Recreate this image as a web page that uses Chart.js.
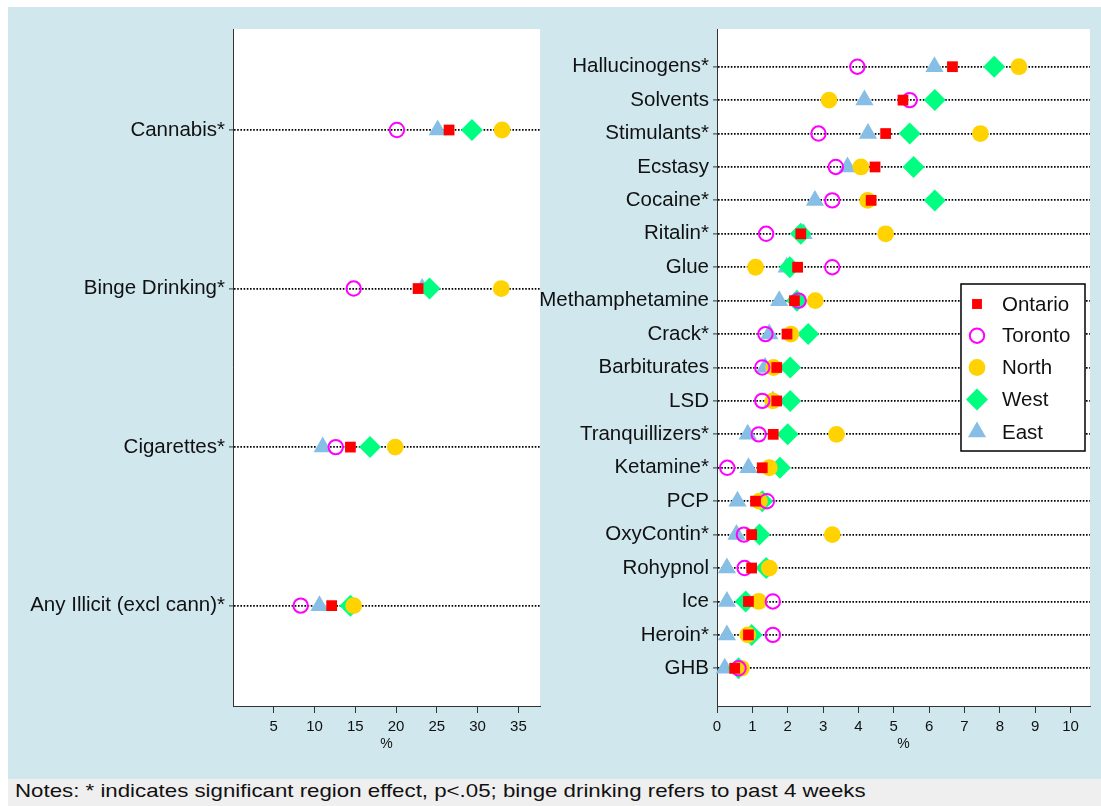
<!DOCTYPE html>
<html>
<head>
<meta charset="utf-8">
<script src="https://cdn.jsdelivr.net/npm/chart.js@4/dist/chart.umd.min.js"></script>
<style>
  html, body { margin: 0; padding: 0; background: #ffffff; }
  body { width: 1101px; height: 806px; position: relative; overflow: hidden; font-family: 'Liberation Sans', Arial, sans-serif; }
  #bg { position: absolute; left: 8px; top: 7px; width: 1093px; height: 772px; background: #d0e7ee; }
  #notes { position: absolute; left: 8px; top: 779px; width: 1093px; height: 27px; background: #efefef; }
  #notesText { position: absolute; left: 15px; top: 777px; height: 27px; line-height: 27px; font-size: 19px; color: #111; white-space: nowrap; transform: scaleX(1.172); transform-origin: 0 50%; }
  canvas { position: absolute; top: 0; }
  #left { left: 0; }
  #right { left: 520px; }
</style>
</head>
<body>
<div id="bg"></div>
<div id="notes"></div>
<div id="notesText">Notes: * indicates significant region effect, p&lt;.05; binge drinking refers to past 4 weeks</div>
<canvas id="left" width="560" height="779"></canvas>
<canvas id="right" width="581" height="779"></canvas>
<script>
// Substance-use prevalence (%) by region
const leftCategories = ['Cannabis*', 'Binge Drinking*', 'Cigarettes*', 'Any Illicit (excl cann)*'];
const leftOntario = [26.5, 22.7, 14.4, 12.1];
const leftToronto = [20.1, 14.8, 12.6, 8.3];
const leftNorth   = [33.0, 32.9, 19.9, 14.8];
const leftWest    = [29.3, 24.1, 16.8, 14.4];
const leftEast    = [25.1, 23.2, 11.0, 10.6];
const leftTicks   = [5, 10, 15, 20, 25, 30, 35];

const rightCategories = ['Hallucinogens*', 'Solvents', 'Stimulants*', 'Ecstasy', 'Cocaine*', 'Ritalin*', 'Glue',
  'Methamphetamine', 'Crack*', 'Barbiturates', 'LSD', 'Tranquillizers*', 'Ketamine*', 'PCP', 'OxyContin*',
  'Rohypnol', 'Ice', 'Heroin*', 'GHB'];
const rightOntario = [6.66, 5.26, 4.77, 4.47, 4.36, 2.37, 2.28, 2.19, 1.98, 1.69, 1.69, 1.59, 1.28, 1.09, 0.98, 0.98, 0.89, 0.89, 0.50];
const rightToronto = [3.97, 5.45, 2.87, 3.36, 3.26, 1.39, 3.26, 2.31, 1.37, 1.28, 1.28, 1.18, 0.29, 1.41, 0.76, 0.78, 1.58, 1.58, 0.61];
const rightNorth   = [8.54, 3.17, 7.45, 4.07, 4.26, 4.77, 1.09, 2.78, 2.09, 1.60, 1.58, 3.38, 1.48, 1.20, 3.26, 1.48, 1.18, 0.87, 0.69];
const rightWest    = [7.84, 6.16, 5.45, 5.56, 6.16, 2.37, 2.06, 2.26, 2.58, 2.07, 2.07, 2.00, 1.78, 1.28, 1.20, 1.39, 0.81, 0.98, 0.61];
const rightEast    = [6.15, 4.17, 4.27, 3.69, 2.77, 2.45, 1.97, 1.76, 1.48, 1.36, 1.58, 0.87, 0.89, 0.58, 0.55, 0.28, 0.28, 0.28, 0.22];
const rightTicks   = [0, 1, 2, 3, 4, 5, 6, 7, 8, 9, 10];

const regionNames = ['Ontario', 'Toronto', 'North', 'West', 'East'];

const FONT = "'Liberation Sans', Arial, sans-serif";
const AXIS = '#333333';

// marker style per region (dataset 0 is drawn on top)
const markerStyles = [
  { pointStyle: 'rect',     radius: 7.6, fill: '#ff0000', stroke: '#ff0000', borderWidth: 0 },
  { pointStyle: 'circle',   radius: 7.2, fill: 'rgba(0,0,0,0)', stroke: '#ff00ff', borderWidth: 2 },
  { pointStyle: 'circle',   radius: 8.4, fill: '#ffd200', stroke: '#ffd200', borderWidth: 0 },
  { pointStyle: 'rectRot',  radius: 11,  fill: '#00ff80', stroke: '#00ff80', borderWidth: 0 },
  { pointStyle: 'triangle', radius: 10.5, fill: '#87bee6', stroke: '#87bee6', borderWidth: 0 }
];

function buildDatasets(seriesList) {
  return seriesList.map((values, k) => {
    const m = markerStyles[k];
    return {
      label: regionNames[k],
      data: values.map((v, i) => ({ x: v, y: i + 1 })),
      showLine: false,
      pointStyle: m.pointStyle,
      pointRadius: m.radius,
      pointHoverRadius: m.radius,
      pointBackgroundColor: m.fill,
      pointBorderColor: m.stroke,
      pointBorderWidth: m.borderWidth,
      pointHoverBorderWidth: m.borderWidth,
      clip: false
    };
  });
}

const whiteArea = {
  id: 'whiteArea',
  beforeDraw(chart) {
    const { ctx, chartArea: a } = chart;
    ctx.save();
    ctx.fillStyle = '#ffffff';
    ctx.fillRect(a.left, a.top, a.right - a.left, a.bottom - a.top);
    ctx.restore();
  }
};

// legend box drawn inside the plot area
const insideLegend = {
  id: 'insideLegend',
  afterDraw(chart) {
    const ctx = chart.ctx;
    const ox = chart.canvas.offsetLeft;
    const box = { x: 961 - ox, y: 284, w: 124, h: 167 };
    ctx.save();
    ctx.fillStyle = '#ffffff';
    ctx.fillRect(box.x, box.y, box.w, box.h);
    ctx.strokeStyle = '#000000';
    ctx.lineWidth = 1.5;
    ctx.strokeRect(box.x, box.y, box.w, box.h);
    const rowY = [304, 335.7, 367.5, 399.6, 432];
    ctx.font = '20.5px ' + FONT;
    ctx.textBaseline = 'middle';
    ctx.textAlign = 'left';
    regionNames.forEach((name, k) => {
      const m = markerStyles[k];
      ctx.fillStyle = m.fill;
      ctx.strokeStyle = m.stroke;
      ctx.lineWidth = m.borderWidth;
      const r = k === 0 ? 7 : m.radius;
      Chart.helpers.drawPoint(ctx, { pointStyle: m.pointStyle, radius: r, borderWidth: m.borderWidth, rotation: 0 }, 977 - ox, rowY[k]);
      ctx.fillStyle = '#111111';
      ctx.fillText(name, 1002 - ox, rowY[k] + 1);
    });
    ctx.restore();
  }
};

function makePanel(canvasId, cats, series, ticks, xMax, yMin, yMax, yWidth, padRight, extraPlugins) {
  return new Chart(document.getElementById(canvasId), {
    type: 'scatter',
    data: { datasets: buildDatasets(series) },
    options: {
      responsive: false,
      animation: false,
      events: [],
      layout: { padding: { top: 29, right: padRight, left: 0, bottom: 26 } },
      plugins: { legend: { display: false }, tooltip: { enabled: false } },
      scales: {
        x: {
          type: 'linear',
          min: 0,
          max: xMax,
          afterBuildTicks: (s) => { s.ticks = ticks.map(v => ({ value: v })); },
          afterFit: (s) => { s.height = 47; },
          border: { display: true, color: AXIS, width: 1 },
          grid: { display: true, drawOnChartArea: false, drawTicks: true, tickLength: 7, tickColor: AXIS, tickWidth: 1 },
          ticks: { color: '#111', font: { family: FONT, size: 15 }, padding: 5, maxRotation: 0, autoSkip: false },
          title: { display: true, text: '%', color: '#111', font: { family: FONT, size: 14 }, padding: { top: 4, bottom: 0 } }
        },
        y: {
          type: 'linear',
          reverse: true,
          min: yMin,
          max: yMax,
          afterBuildTicks: (s) => { s.ticks = cats.map((_, i) => ({ value: i + 1 })); },
          afterFit: (s) => { s.width = yWidth; },
          border: { display: true, color: AXIS, width: 1, dash: [1.6, 1.6] },
          grid: { display: true, drawOnChartArea: true, color: '#000000', lineWidth: 1.8, drawTicks: true, tickLength: 4, tickColor: AXIS, tickWidth: 1, tickBorderDash: [] },
          ticks: {
            color: '#111', font: { family: FONT, size: 20.5 }, padding: 4, autoSkip: false,
            callback: (v) => cats[v - 1]
          }
        }
      }
    },
    plugins: [whiteArea].concat(extraPlugins)
  });
}

makePanel('left', leftCategories,
  [leftOntario, leftToronto, leftNorth, leftWest, leftEast],
  leftTicks, 37.65, 0.363, 4.633, 233, 20, []);

makePanel('right', rightCategories,
  [rightOntario, rightToronto, rightNorth, rightWest, rightEast],
  rightTicks, 10.55, -0.128, 20.128, 197, 9, [insideLegend]);
</script>
</body>
</html>
